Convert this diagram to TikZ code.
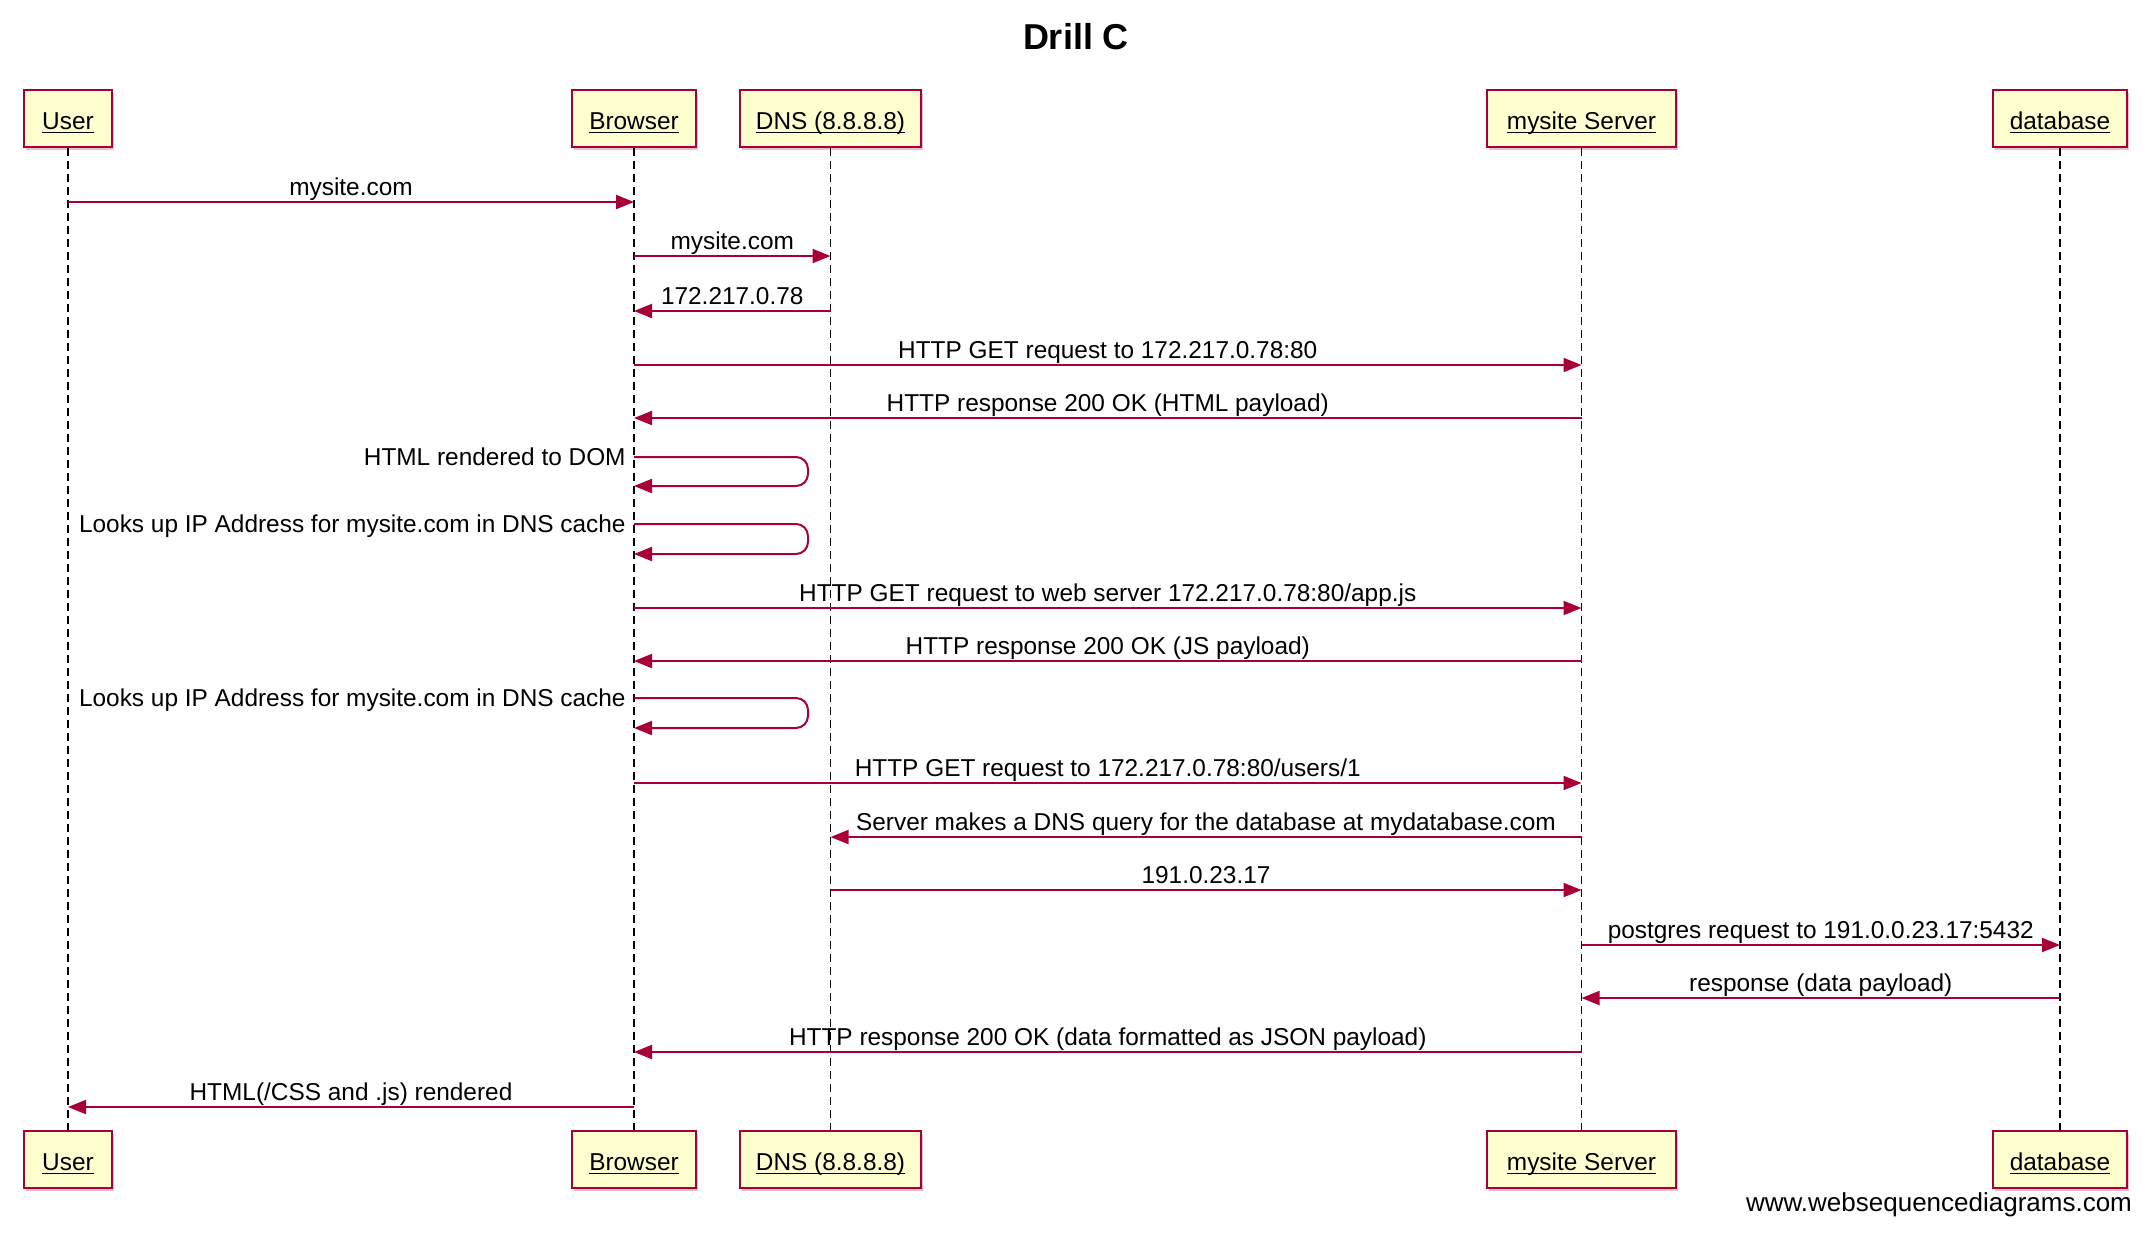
\documentclass[tikz,border=0pt]{standalone}
\usepackage{fontspec}
\setmainfont{Liberation Sans}
\usepackage{amsmath}
\usepackage{xcolor}
\usetikzlibrary{arrows.meta, shadows}
\definecolor{myred}{RGB}{168, 0, 54}
\definecolor{myyellow}{RGB}{254, 254, 206}
\newcommand{\uname}[1]{\underline{\smash[b]{#1}}}

\begin{document}
\begin{tikzpicture}[
    x=0.5pt, y=-0.5pt,
    every node/.style={font=\fontsize{12.2}{14}\selectfont},
    head/.style={rectangle, draw=myred, fill=myyellow, line width=1pt, minimum height=28.5pt, text height=11pt, text depth=0.4pt, text centered, drop shadow={shadow xshift=1pt, shadow yshift=-1.5pt, fill=myred, opacity=0.25}},
    life/.style={draw=black, line width=0.6pt, dash pattern=on 4pt off 2.5pt},
    msg/.style={draw=myred, line width=1pt, -{Triangle[length=9pt, width=7pt]}},
    lbl/.style={anchor=base, yshift=3.5pt, inner sep=0pt},
    selflbl/.style={anchor=base east, xshift=-4pt, yshift=-4pt, inner sep=0pt}
]
\useasboundingbox (0,0) rectangle (2152,1250);

% Title
\node[font=\bfseries\fontsize{18}{22}\selectfont, anchor=base] (title) at (1076,49) {Drill C};

% Participants (top)
\node[head, minimum width=44pt] (user) at (68,118.5) {\uname{User}};
\node[head, minimum width=62pt] (browser) at (634,118.5) {\uname{Browser}};
\node[head, minimum width=90.5pt] (dns) at (830.5,118.5) {\uname{DNS (8.8.8.8)}};
\node[head, minimum width=94.5pt] (server) at (1581.5,118.5) {\uname{mysite Server}};
\node[head, minimum width=67pt] (db) at (2060,118.5) {\uname{database}};

% Participants (bottom)
\node[head, minimum width=44pt] (userB) at (68,1159.5) {\uname{User}};
\node[head, minimum width=62pt] (browserB) at (634,1159.5) {\uname{Browser}};
\node[head, minimum width=90.5pt] (dnsB) at (830.5,1159.5) {\uname{DNS (8.8.8.8)}};
\node[head, minimum width=94.5pt] (serverB) at (1581.5,1159.5) {\uname{mysite Server}};
\node[head, minimum width=67pt] (dbB) at (2060,1159.5) {\uname{database}};

% Lifelines
\draw[life] (user.south) -- (userB.north);
\draw[life] (browser.south) -- (browserB.north);
\draw[life] (dns.south) -- (dnsB.north);
\draw[life] (server.south) -- (serverB.north);
\draw[life] (db.south) -- (dbB.north);

% Rows
\coordinate (r1) at (0,202);
\coordinate (r2) at (0,256);
\coordinate (r3) at (0,311);
\coordinate (r4) at (0,365);
\coordinate (r5) at (0,418);
\coordinate (r6) at (0,457);
\coordinate (r6b) at (0,486);
\coordinate (r7) at (0,524);
\coordinate (r7b) at (0,554);
\coordinate (r8) at (0,608);
\coordinate (r9) at (0,661);
\coordinate (r10) at (0,698);
\coordinate (r10b) at (0,728);
\coordinate (r11) at (0,783);
\coordinate (r12) at (0,837);
\coordinate (r13) at (0,890);
\coordinate (r14) at (0,945);
\coordinate (r15) at (0,998);
\coordinate (r16) at (0,1052);
\coordinate (r17) at (0,1107);

% Messages
\draw[msg] (user |- r1) -- node[lbl] (l1) {mysite.com} (browser |- r1);
\draw[msg] (browser |- r2) -- node[lbl] (l2) {mysite.com} (dns |- r2);
\draw[msg] (dns |- r3) -- node[lbl] (l3) {172.217.0.78} (browser |- r3);
\draw[msg] (browser |- r4) -- node[lbl] (l4) {HTTP GET request to 172.217.0.78:80} (server |- r4);
\draw[msg] (server |- r5) -- node[lbl] (l5) {HTTP response 200 OK (HTML payload)} (browser |- r5);

% Self messages
\draw[msg, rounded corners=6pt] (browser |- r6) -- ++(174,0) |- (browser |- r6b);
\node[selflbl] (l6) at (browser |- r6) {HTML rendered to DOM};
\draw[msg, rounded corners=6pt] (browser |- r7) -- ++(174,0) |- (browser |- r7b);
\node[selflbl] (l7) at (browser |- r7) {Looks up IP Address for mysite.com in DNS cache};

\draw[msg] (browser |- r8) -- node[lbl] (l8) {HTTP GET request to web server 172.217.0.78:80/app.js} (server |- r8);
\draw[msg] (server |- r9) -- node[lbl] (l9) {HTTP response 200 OK (JS payload)} (browser |- r9);

\draw[msg, rounded corners=6pt] (browser |- r10) -- ++(174,0) |- (browser |- r10b);
\node[selflbl] (l10) at (browser |- r10) {Looks up IP Address for mysite.com in DNS cache};

\draw[msg] (browser |- r11) -- node[lbl] (l11) {HTTP GET request to 172.217.0.78:80/users/1} (server |- r11);
\draw[msg] (server |- r12) -- node[lbl] (l12) {Server makes a DNS query for the database at mydatabase.com} (dns |- r12);
\draw[msg] (dns |- r13) -- node[lbl] (l13) {191.0.23.17} (server |- r13);
\draw[msg] (server |- r14) -- node[lbl] (l14) {postgres request to 191.0.0.23.17:5432} (db |- r14);
\draw[msg] (db |- r15) -- node[lbl] (l15) {response (data payload)} (server |- r15);
\draw[msg] (server |- r16) -- node[lbl] (l16) {HTTP response 200 OK (data formatted as JSON payload)} (browser |- r16);
\draw[msg] (browser |- r17) -- node[lbl] (l17) {HTML(/CSS and .js) rendered} (user |- r17);

% Credit
\node[anchor=base east, font=\fontsize{13}{15}\selectfont] (credit) at (2139,1211) {www.websequencediagrams.com};

\end{tikzpicture}
\end{document}
